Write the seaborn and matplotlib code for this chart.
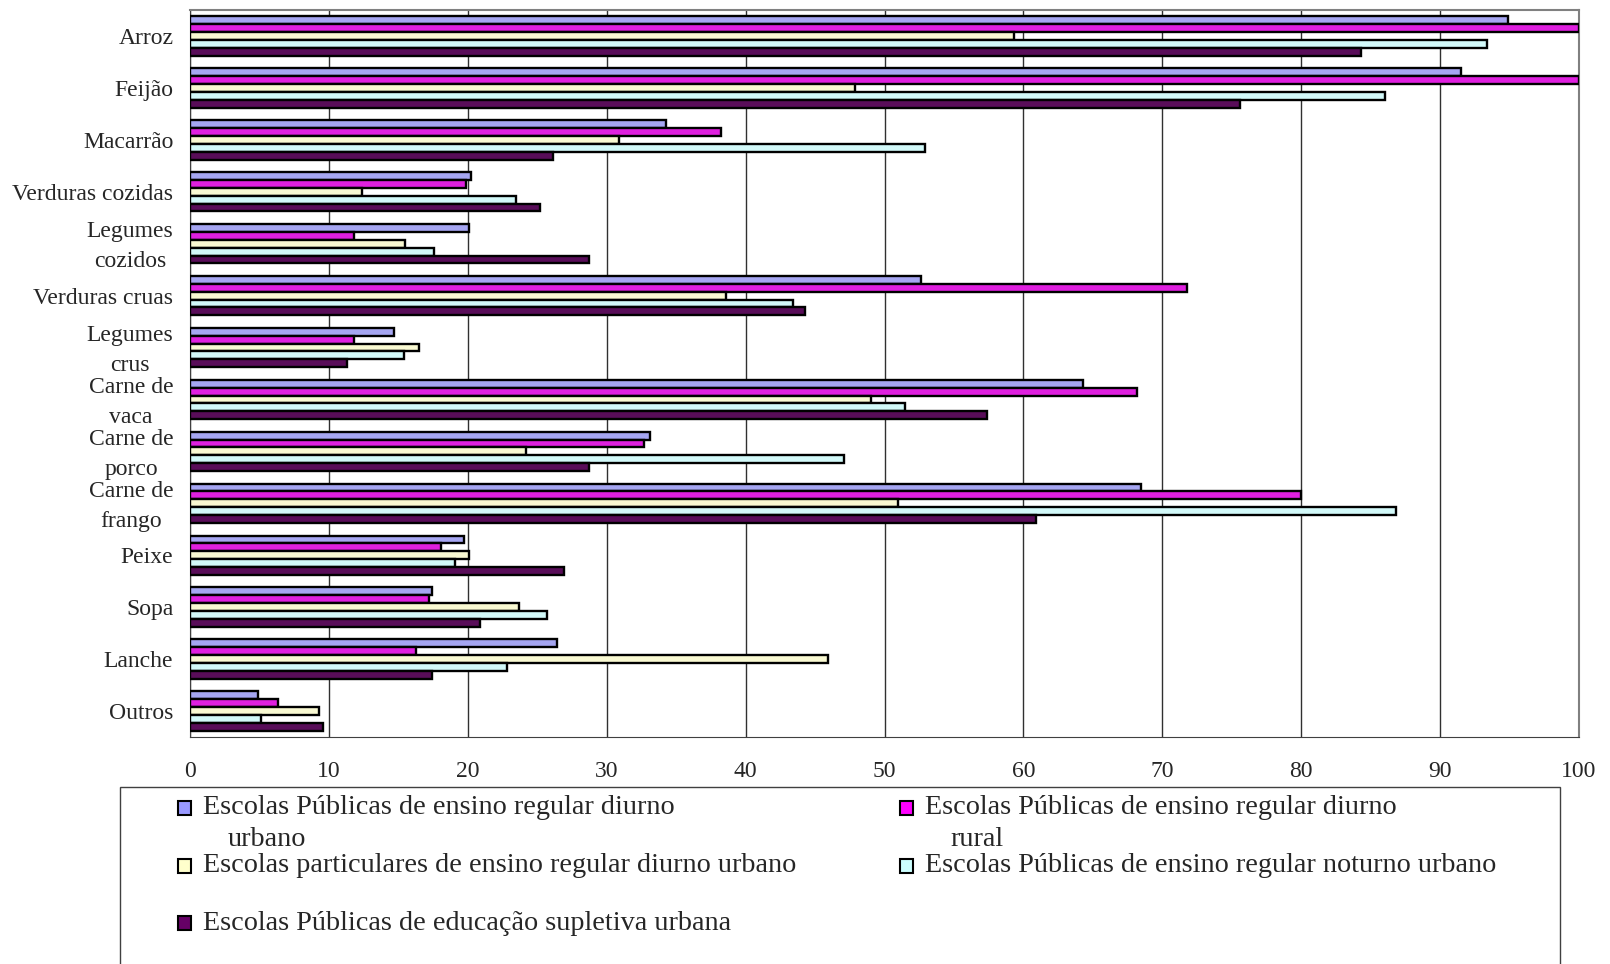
import pandas as pd
import numpy as np
import matplotlib
matplotlib.use("Agg")
import matplotlib.pyplot as plt
import matplotlib.transforms as mtransforms
from matplotlib.patches import Rectangle
import seaborn as sns

categories = ["Arroz", "Feijão", "Macarrão", "Verduras cozidas", "Legumes\ncozidos",
              "Verduras cruas", "Legumes\ncrus", "Carne de\nvaca", "Carne de\nporco",
              "Carne de\nfrango", "Peixe", "Sopa", "Lanche", "Outros"]

publ_diurno_urbano = [94.9, 91.5, 34.3, 20.2, 20.1, 52.6, 14.7, 64.3, 33.1, 68.5, 19.7, 17.4, 26.4, 4.9]
publ_diurno_rural = [100, 100, 38.2, 19.9, 11.8, 71.8, 11.8, 68.2, 32.7, 80.0, 18.1, 17.2, 16.3, 6.3]
part_diurno_urbano = [59.3, 47.9, 30.9, 12.4, 15.5, 38.6, 16.5, 49.0, 24.2, 51.0, 20.1, 23.7, 45.9, 9.3]
publ_noturno_urbano = [93.4, 86.0, 52.9, 23.5, 17.6, 43.4, 15.4, 51.5, 47.1, 86.8, 19.1, 25.7, 22.8, 5.1]
publ_supletiva_urbana = [84.3, 75.6, 26.1, 25.2, 28.7, 44.3, 11.3, 57.4, 28.7, 60.9, 26.9, 20.9, 17.4, 9.6]

series_names = [
    "Escolas Públicas de ensino regular diurno\nurbano",
    "Escolas Públicas de ensino regular diurno\nrural",
    "Escolas particulares de ensino regular diurno urbano",
    "Escolas Públicas de ensino regular noturno urbano",
    "Escolas Públicas de educação supletiva urbana",
]
colors = ["#9999FF", "#FF00FF", "#FFFFCC", "#CCFFFF", "#660066"]

xticks = list(range(0, 101, 10))

# long-form table for seaborn
values = [publ_diurno_urbano, publ_diurno_rural, part_diurno_urbano,
          publ_noturno_urbano, publ_supletiva_urbana]
rows = []
for name, vals in zip(series_names, values):
    for cat, v in zip(categories, vals):
        rows.append({"categoria": cat, "serie": name, "valor": v})
df = pd.DataFrame(rows)

sns.set_style("white")
plt.rcParams["font.family"] = ["Liberation Serif", "DejaVu Serif"]

fig = plt.figure(figsize=(16.1, 9.64), dpi=100)
ax = fig.add_axes([190 / 1610, 1 - 737 / 964, (1579 - 190) / 1610, (737 - 10) / 964])

sns.barplot(data=df, y="categoria", x="valor", hue="serie", order=categories,
            hue_order=series_names, palette=colors, orient="h", width=0.76,
            errorbar=None, edgecolor="black", linewidth=1.7, legend=False,
            ax=ax, zorder=3)

ax.set_xlim(0, 100)
ax.set_ylim(13.5, -0.5)
ax.set_xticks(xticks)
ax.set_xlabel("")
ax.set_ylabel("")
ax.xaxis.grid(True, color="#303030", linewidth=1, zorder=0)
ax.yaxis.grid(False)
ax.tick_params(axis="x", length=0, pad=17, labelsize=17)
ax.tick_params(axis="y", which="major", length=0, pad=12, labelsize=17)
ax.set_yticks(np.arange(-0.5, 14, 1), minor=True)
ax.tick_params(axis="y", which="minor", length=7, width=1, color="black", direction="out")
lift = mtransforms.ScaledTranslation(0, 4 / 100, fig.dpi_scale_trans)
for lab in ax.get_yticklabels():
    lab.set_multialignment("center")
    lab.set_linespacing(1.55)
    if "\n" in lab.get_text():
        lab.set_transform(lab.get_transform() + lift)

for side in ["top", "right"]:
    ax.spines[side].set_color("#808080")
    ax.spines[side].set_linewidth(1.5)
ax.spines["left"].set_color("#404040")
ax.spines["bottom"].set_color("#404040")

# legend box drawn in figure coords
W, H = 1610, 964
fig.patches.append(Rectangle((120 / W, -0.01), (1560 - 120) / W, 0.01 + 1 - 787 / H,
                             transform=fig.transFigure, facecolor="white",
                             edgecolor="#404040", linewidth=1))
slots = [(178, 808), (900, 808), (178, 866), (900, 866), (178, 923)]
for (x, y), name, c in zip(slots, series_names, colors):
    fig.patches.append(Rectangle((x / W, 1 - (y + 7) / H), 13 / W, 14 / H,
                                 transform=fig.transFigure, facecolor=c,
                                 edgecolor="black", linewidth=1.5))
    lines = name.split("\n")
    fig.text((x + 25) / W, 1 - y / H, lines[0], fontsize=20.3, va="center", ha="left")
    for i, extra in enumerate(lines[1:], start=1):
        fig.text((x + 50) / W, 1 - (y + 31 * i) / H, extra, fontsize=20.3, va="center", ha="left")

fig.savefig("out.png", dpi=100)
